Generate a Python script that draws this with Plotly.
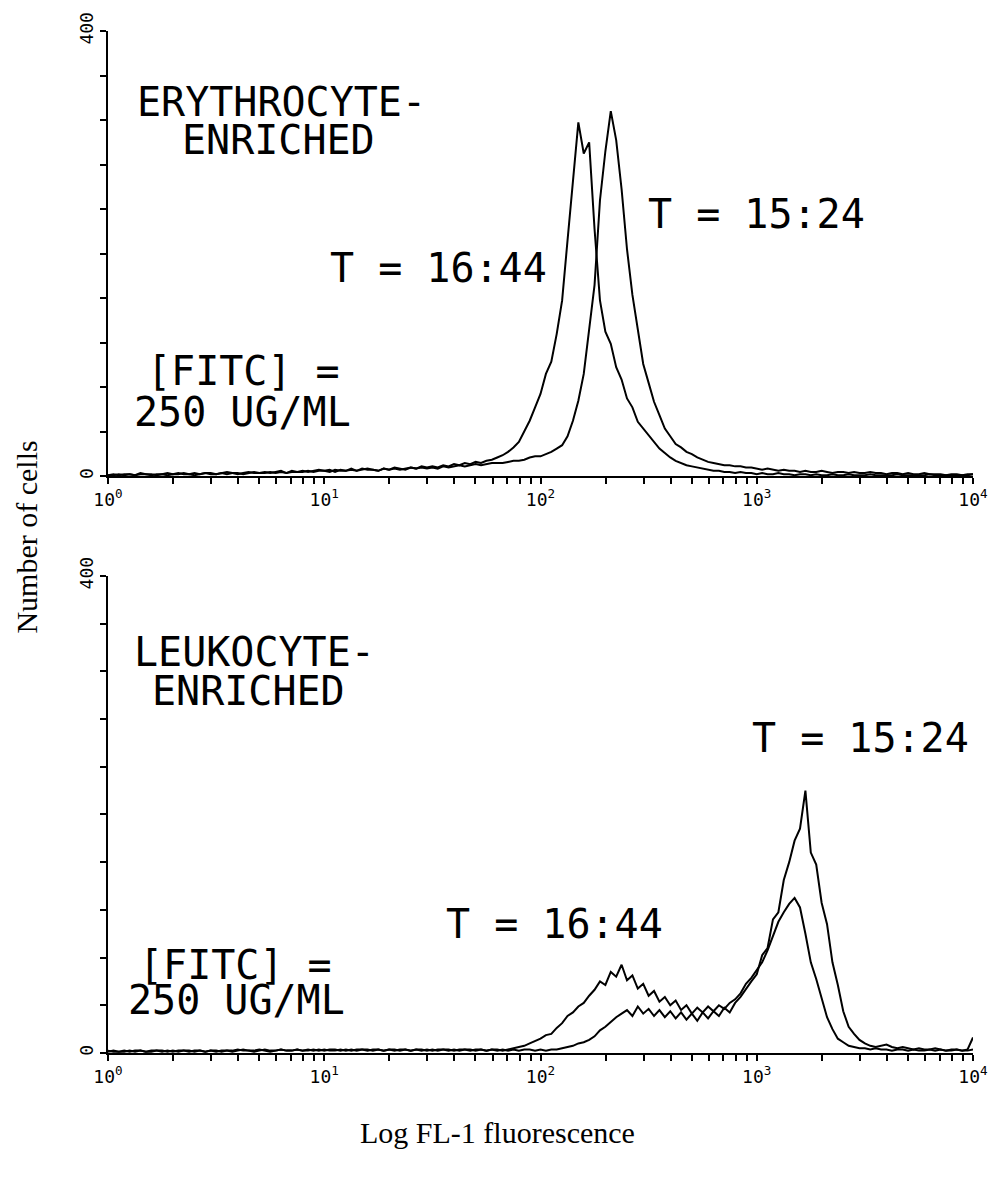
import plotly.graph_objects as go

# Fluorescence channels (log10 of FL-1 intensity)
LOG_FL = [
    0.000, 0.025, 0.050, 0.075, 0.100, 0.125, 0.150, 0.175, 0.200, 0.225,
    0.250, 0.275, 0.300, 0.325, 0.350, 0.375, 0.400, 0.425, 0.450, 0.475,
    0.500, 0.525, 0.550, 0.575, 0.600, 0.625, 0.650, 0.675, 0.700, 0.725,
    0.750, 0.775, 0.800, 0.825, 0.850, 0.875, 0.900, 0.925, 0.950, 0.975,
    1.000, 1.025, 1.050, 1.075, 1.100, 1.125, 1.150, 1.175, 1.200, 1.225,
    1.250, 1.275, 1.300, 1.325, 1.350, 1.375, 1.400, 1.425, 1.450, 1.475,
    1.500, 1.525, 1.550, 1.575, 1.600, 1.625, 1.650, 1.675, 1.700, 1.725,
    1.750, 1.775, 1.800, 1.825, 1.850, 1.875, 1.900, 1.925, 1.950, 1.975,
    2.000, 2.025, 2.050, 2.075, 2.100, 2.125, 2.150, 2.175, 2.200, 2.225,
    2.250, 2.275, 2.300, 2.325, 2.350, 2.375, 2.400, 2.425, 2.450, 2.475,
    2.500, 2.525, 2.550, 2.575, 2.600, 2.625, 2.650, 2.675, 2.700, 2.725,
    2.750, 2.775, 2.800, 2.825, 2.850, 2.875, 2.900, 2.925, 2.950, 2.975,
    3.000, 3.025, 3.050, 3.075, 3.100, 3.125, 3.150, 3.175, 3.200, 3.225,
    3.250, 3.275, 3.300, 3.325, 3.350, 3.375, 3.400, 3.425, 3.450, 3.475,
    3.500, 3.525, 3.550, 3.575, 3.600, 3.625, 3.650, 3.675, 3.700, 3.725,
    3.750, 3.775, 3.800, 3.825, 3.850, 3.875, 3.900, 3.925, 3.950, 3.975,
    4.000,
]

# Erythrocyte-enriched, number of cells
ERY_T1644 = [
    1, 2, 1, 2, 2, 1, 3, 2, 2, 1, 2, 3, 2, 2, 3, 2, 3, 2, 3, 3,
    2, 3, 4, 3, 2, 3, 4, 3, 3, 4, 3, 4, 5, 3, 4, 4, 5, 4, 5, 6,
    5, 6, 4, 6, 5, 7, 5, 6, 7, 6, 5, 7, 6, 8, 7, 6, 8, 7, 9, 8,
    9, 8, 10, 9, 11, 10, 12, 11, 13, 12, 14, 15, 17, 19, 22, 26, 31, 40, 50, 62,
    74, 92, 103, 128, 158, 212, 262, 318, 290, 300, 222, 158, 130, 119, 98, 87, 70, 62, 49, 43,
    36, 30, 25, 21, 17, 14, 12, 10, 9, 8, 7, 6, 5, 5, 4, 4, 3, 4, 3, 3,
    2, 3, 2, 2, 3, 2, 2, 1, 2, 2, 1, 2, 1, 1, 2, 1, 1, 2, 1, 1,
    1, 2, 1, 1, 1, 1, 2, 1, 1, 1, 1, 1, 2, 1, 1, 1, 1, 1, 1, 1,
    2,
]
ERY_T1524 = [
    1, 1, 2, 1, 2, 1, 2, 2, 1, 2, 2, 1, 2, 3, 2, 2, 1, 2, 3, 2,
    2, 3, 2, 3, 3, 2, 3, 4, 3, 3, 4, 3, 4, 3, 5, 4, 4, 5, 4, 5,
    5, 4, 6, 5, 5, 6, 5, 7, 6, 6, 5, 7, 6, 7, 6, 7, 8, 7, 8, 7,
    8, 7, 9, 8, 9, 10, 9, 10, 11, 10, 11, 12, 12, 12, 13, 14, 14, 15, 17, 18,
    18, 20, 22, 25, 28, 36, 50, 68, 92, 132, 172, 248, 292, 328, 302, 258, 204, 163, 130, 101,
    84, 67, 55, 43, 36, 29, 26, 22, 20, 17, 15, 13, 12, 11, 10, 10, 9, 9, 8, 8,
    7, 6, 7, 6, 5, 6, 5, 5, 4, 5, 4, 4, 5, 4, 3, 4, 4, 3, 4, 3,
    3, 4, 3, 3, 2, 3, 3, 2, 3, 2, 2, 3, 2, 2, 2, 1, 2, 2, 1, 2,
    2,
]

# Leukocyte-enriched, number of cells
LEU_T1524 = [
    1, 2, 1, 1, 2, 1, 2, 1, 2, 2, 1, 2, 1, 2, 2, 1, 2, 2, 1, 2,
    2, 1, 2, 2, 3, 2, 2, 1, 2, 3, 2, 2, 3, 2, 2, 3, 2, 3, 2, 3,
    2, 3, 3, 2, 3, 2, 3, 3, 2, 3, 3, 2, 3, 3, 2, 3, 2, 3, 3, 2,
    3, 2, 3, 3, 2, 3, 3, 2, 3, 3, 2, 3, 2, 3, 2, 3, 2, 3, 3, 2,
    3, 2, 3, 3, 4, 5, 6, 8, 9, 11, 14, 19, 22, 26, 30, 33, 36, 31, 39, 33,
    37, 31, 36, 30, 35, 29, 34, 28, 33, 27, 34, 29, 35, 31, 38, 34, 42, 47, 54, 60,
    66, 82, 88, 112, 118, 145, 160, 178, 188, 220, 168, 158, 126, 108, 76, 57, 35, 22, 16, 11,
    8, 6, 5, 6, 7, 5, 4, 5, 4, 3, 4, 3, 3, 4, 3, 2, 3, 3, 2, 3,
    13,
]
LEU_T1644 = [
    2, 1, 1, 2, 1, 2, 2, 1, 1, 2, 2, 1, 2, 1, 2, 2, 1, 2, 1, 2,
    1, 2, 2, 1, 2, 3, 2, 2, 3, 2, 1, 2, 3, 2, 2, 3, 2, 2, 3, 2,
    3, 2, 2, 3, 2, 3, 2, 3, 3, 2, 3, 2, 3, 2, 3, 3, 2, 3, 2, 3,
    2, 3, 3, 2, 3, 2, 3, 3, 2, 3, 2, 3, 3, 2, 3, 4, 5, 6, 8, 10,
    12, 15, 16, 21, 25, 31, 34, 39, 42, 48, 53, 60, 57, 68, 64, 74, 61, 65, 54, 58,
    48, 52, 43, 47, 40, 44, 36, 40, 33, 38, 34, 39, 35, 40, 37, 42, 45, 50, 58, 63,
    69, 76, 86, 98, 110, 118, 125, 130, 122, 100, 76, 62, 46, 30, 20, 12, 9, 6, 5, 4,
    4, 3, 4, 3, 3, 2, 3, 3, 2, 3, 2, 2, 3, 2, 3, 2, 2, 3, 2, 2,
    3,
]

# Ticks: decades are labelled, intermediate digits get unlabelled ticks
X_TICKS = [m * 10 ** d for d in range(4) for m in range(1, 10)] + [10000]
X_TICKTEXT = [("10<sup>%d</sup>" % d if m == 1 else "") for d in range(4) for m in range(1, 10)] + ["10<sup>4</sup>"]
Y_TICKS = [0, 40, 80, 120, 160, 200, 240, 280, 320, 360, 400]
Y_TICKTEXT = ["0", "", "", "", "", "", "", "", "", "", "400"]

MONO = "DejaVu Sans Mono"
SERIF = "Liberation Serif"

x_vals = [10 ** v for v in LOG_FL]

fig = go.Figure()
line = dict(color="black", width=2)
fig.add_trace(go.Scatter(x=x_vals, y=ERY_T1644, mode="lines", line=line, xaxis="x", yaxis="y", name="T = 16:44"))
fig.add_trace(go.Scatter(x=x_vals, y=ERY_T1524, mode="lines", line=line, xaxis="x", yaxis="y", name="T = 15:24"))
fig.add_trace(go.Scatter(x=x_vals, y=LEU_T1524, mode="lines", line=line, xaxis="x2", yaxis="y2", name="T = 15:24"))
fig.add_trace(go.Scatter(x=x_vals, y=LEU_T1644, mode="lines", line=line, xaxis="x2", yaxis="y2", name="T = 16:44"))

xax = dict(
    type="log", range=[0, 4], showline=True, linecolor="black", linewidth=1.8,
    showgrid=False, zeroline=False, ticks="outside", ticklen=6, tickwidth=1.6,
    tickcolor="black", tickmode="array", tickvals=X_TICKS, ticktext=X_TICKTEXT,
    tickfont=dict(family=MONO, size=18, color="black"),
)
yax = dict(
    range=[0, 400], showline=True, linecolor="black", linewidth=1.8,
    showgrid=False, zeroline=False, ticks="outside", ticklen=6, tickwidth=1.6,
    tickcolor="black", tickmode="array", tickvals=Y_TICKS, ticktext=Y_TICKTEXT,
    tickangle=-90, tickfont=dict(family=MONO, size=18, color="black"),
)

fig.update_layout(
    width=1000, height=1177,
    margin=dict(l=108, r=21, t=25, b=124),
    paper_bgcolor="white", plot_bgcolor="white",
    showlegend=False,
    xaxis=dict(xax, domain=[0, 1], anchor="y"),
    yaxis=dict(yax, domain=[0.5642, 1.0], anchor="x"),
    xaxis2=dict(xax, domain=[0, 1], anchor="y2"),
    yaxis2=dict(yax, domain=[0.0, 0.4669], anchor="x2"),
)

def label(text, xd, yd, xref, yref, size=40):
    fig.add_annotation(text=text, x=xd, y=yd, xref=xref, yref=yref,
                       xanchor="center", yanchor="middle", showarrow=False,
                       font=dict(family=MONO, size=size, color="black"))

# top panel
label("ERYTHROCYTE-", 0.201, 0.840, "x domain", "y domain")
label("ENRICHED", 0.197, 0.755, "x domain", "y domain")
label("T = 16:44", 0.382, 0.468, "x domain", "y domain")
label("T = 15:24", 0.750, 0.589, "x domain", "y domain")
label("[FITC] =", 0.157, 0.236, "x domain", "y domain")
label("250 UG/ML", 0.155, 0.144, "x domain", "y domain")
# bottom panel
label("LEUKOCYTE-", 0.169, 0.840, "x2 domain", "y2 domain")
label("ENRICHED", 0.162, 0.759, "x2 domain", "y2 domain")
label("T = 15:24", 0.870, 0.661, "x2 domain", "y2 domain")
label("T = 16:44", 0.516, 0.270, "x2 domain", "y2 domain")
label("[FITC] =", 0.147, 0.184, "x2 domain", "y2 domain")
label("250 UG/ML", 0.149, 0.111, "x2 domain", "y2 domain")

# axis titles (paper coords are relative to the plotting area)
fig.add_annotation(text="Number of cells", x=-0.094, y=0.505, xref="paper", yref="paper",
                   xanchor="center", yanchor="middle", textangle=-90, showarrow=False,
                   font=dict(family=SERIF, size=30, color="black"))
fig.add_annotation(text="Log FL-1 fluorescence", x=(500 - 108) / 871, y=-0.078, xref="paper", yref="paper",
                   xanchor="center", yanchor="middle", showarrow=False,
                   font=dict(family=SERIF, size=30, color="black"))

fig.write_html("out.html")
